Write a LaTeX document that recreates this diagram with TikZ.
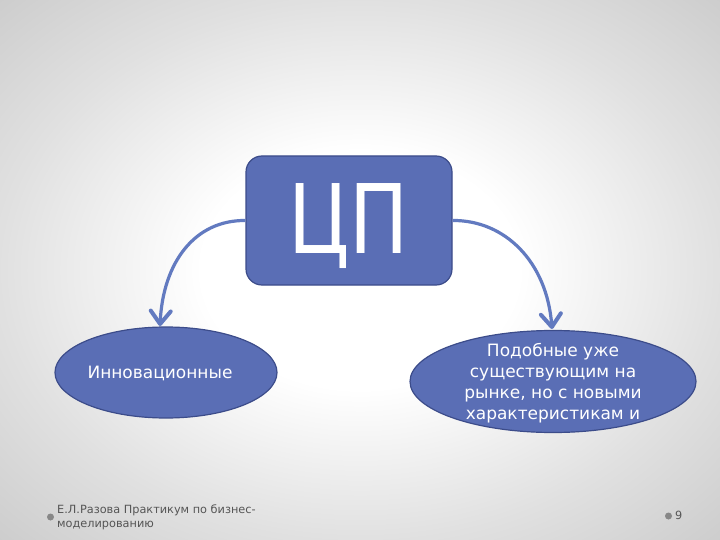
\documentclass[tikz,border=0pt]{standalone}
\usepackage{fontspec}
\setmainfont{DejaVu Sans}
\newfontfamily\bigfont[FakeStretch=0.82]{DejaVu Sans}
\usetikzlibrary{shapes.geometric,arrows.meta}
\definecolor{boxfill}{RGB}{90,110,181}
\definecolor{boxedge}{RGB}{60,76,138}
\definecolor{arrowc}{RGB}{98,122,192}
\definecolor{foot}{RGB}{85,85,85}
\definecolor{dotc}{RGB}{135,135,135}
\pgfdeclareradialshading{bgshade}{\pgfpoint{0bp}{0bp}}{color(0bp)=(white);color(11bp)=(white);color(25bp)=(black!12);color(36bp)=(black!20);color(50bp)=(black!20)}
\tikzset{
  mainbox/.style={draw=boxedge,line width=1.2pt,fill=boxfill,rounded corners=16pt,minimum width=206pt,minimum height=129pt,inner sep=0pt,text=white},
  oval/.style={ellipse,draw=boxedge,line width=1.2pt,fill=boxfill,inner sep=0pt},
  ovaltext/.style={text=white,align=center,inner sep=0pt,font=\fontsize{17}{21}\selectfont},
  link/.style={arrowc,line width=3.2pt,-{Straight Barb[length=13pt,width=20pt,line width=4pt,line cap=round,line join=round]}},
  foottext/.style={text=foot,font=\fontsize{11.3}{14}\selectfont,align=left,anchor=west,inner sep=0pt},
  dot/.style={circle,fill=dotc,inner sep=0pt,minimum size=7pt}
}
\begin{document}
\begin{tikzpicture}[x=1pt,y=-1pt]
\useasboundingbox (0,0) rectangle (720,540);
\shade[shading=bgshade] (0,0) rectangle (720,540);
\node[mainbox] (cp) at (349,220.5) {};
\node[text=white,inner sep=0pt,font=\bigfont\fontsize{96}{96}\selectfont] (cpt) at (349,226) {ЦП};
\node[oval,minimum width=222pt,minimum height=91pt] (inn) at (166,372.5) {};
\node[ovaltext] (innt) at (160,373) {Инновационные};
\node[oval,minimum width=286pt,minimum height=102pt] (sim) at (553,381.5) {};
\node[ovaltext] (simt) at (553,383) {Подобные уже\\существующим на\\рынке, но  с новыми\\характеристикам и};
\coordinate (tl) at (160,326);
\coordinate (tr) at (552,329);
\draw[link] (cp.west) .. controls (195,220) and (163,262) .. (tl);
\draw[link] (cp.east) .. controls (505,220) and (547,262) .. (tr);
\node[dot] (d1) at (50.5,517) {};
\node[foottext] (ft) at (57,517) {Е.Л.Разова Практикум по бизнес-\\моделированию};
\node[dot] (d2) at (668.5,516) {};
\node[foottext] (pg) at (675,515) {9};
\end{tikzpicture}
\end{document}
